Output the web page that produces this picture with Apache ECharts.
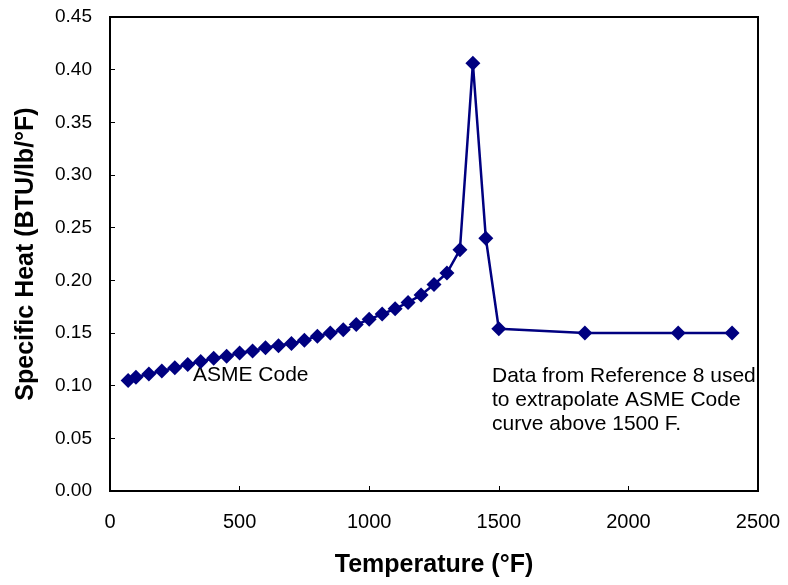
<!DOCTYPE html>
<html>
<head>
<meta charset="utf-8">
<script src="https://cdn.jsdelivr.net/npm/echarts@6/dist/echarts.min.js"></script>
<style>
  html, body { margin: 0; padding: 0; background: #fff; }
  #chart { width: 788px; height: 585px; }
</style>
</head>
<body>
<div id="chart"></div>
<script>
// Temperature (°F) and specific heat (BTU/lb/°F)
const temperatures = [70, 100, 150, 200, 250, 300, 350, 400, 450, 500, 550, 600, 650, 700,
  750, 800, 850, 900, 950, 1000, 1050, 1100, 1150, 1200, 1250, 1300, 1350, 1400, 1450, 1500,
  1832, 2192, 2400];
const specificHeat = [0.105, 0.108, 0.111, 0.114, 0.117, 0.120, 0.123, 0.126, 0.128, 0.131, 0.133, 0.136, 0.138, 0.140,
  0.143, 0.147, 0.150, 0.153, 0.158, 0.163, 0.168, 0.173, 0.179, 0.186, 0.196, 0.207, 0.229, 0.406, 0.240, 0.154,
  0.150, 0.150, 0.150];
const xTicks = { min: 0, max: 2500, interval: 500 };
const yTicks = { min: 0, max: 0.45, interval: 0.05 };

const FONT = '"Liberation Sans", Arial, sans-serif';
const chart = echarts.init(document.getElementById('chart'), null, { renderer: 'canvas' });

chart.setOption({
  animation: false,
  backgroundColor: '#ffffff',
  grid: {
    left: 110, right: 30, top: 17, bottom: 94,
    show: true, borderColor: '#000', borderWidth: 2, backgroundColor: 'transparent'
  },
  xAxis: {
    type: 'value',
    min: xTicks.min, max: xTicks.max, interval: xTicks.interval,
    name: 'Temperature (°F)',
    nameLocation: 'middle',
    nameGap: 62,
    nameTextStyle: { fontFamily: FONT, fontSize: 25, fontWeight: 'bold', color: '#000' },
    axisLine: { show: true, lineStyle: { color: '#000', width: 2 } },
    axisTick: { show: true, inside: true, length: 5, lineStyle: { color: '#000', width: 1 } },
    axisLabel: {
      fontFamily: FONT, fontSize: 20, color: '#000', margin: 21,
      formatter: v => String(v)
    },
    splitLine: { show: false }
  },
  yAxis: {
    type: 'value',
    min: yTicks.min, max: yTicks.max, interval: yTicks.interval,
    name: 'Specific Heat (BTU/lb/°F)',
    nameLocation: 'middle',
    nameGap: 71,
    nameTextStyle: { fontFamily: FONT, fontSize: 25, fontWeight: 'bold', color: '#000' },
    axisLine: { show: true, lineStyle: { color: '#000', width: 2 } },
    axisTick: { show: true, inside: true, length: 5, lineStyle: { color: '#000', width: 1 } },
    axisLabel: {
      fontFamily: FONT, fontSize: 19, color: '#000', margin: 18,
      formatter: v => v.toFixed(2)
    },
    splitLine: { show: false }
  },
  series: [{
    type: 'line',
    data: temperatures.map((t, i) => [t, specificHeat[i]]),
    lineStyle: { color: '#000080', width: 2.5 },
    itemStyle: { color: '#000080' },
    symbol: 'diamond',
    symbolSize: [15, 15],
    z: 3
  }],
  graphic: [
    {
      type: 'text', left: 193, top: 365,
      style: { text: 'ASME Code', font: '21px ' + FONT, fill: '#000' }
    },
    {
      type: 'text', left: 492, top: 364,
      style: {
        text: 'Data from Reference 8 used\nto extrapolate ASME Code\ncurve above 1500 F.',
        font: '21px ' + FONT, fill: '#000', lineHeight: 24
      }
    }
  ]
});
</script>
</body>
</html>
